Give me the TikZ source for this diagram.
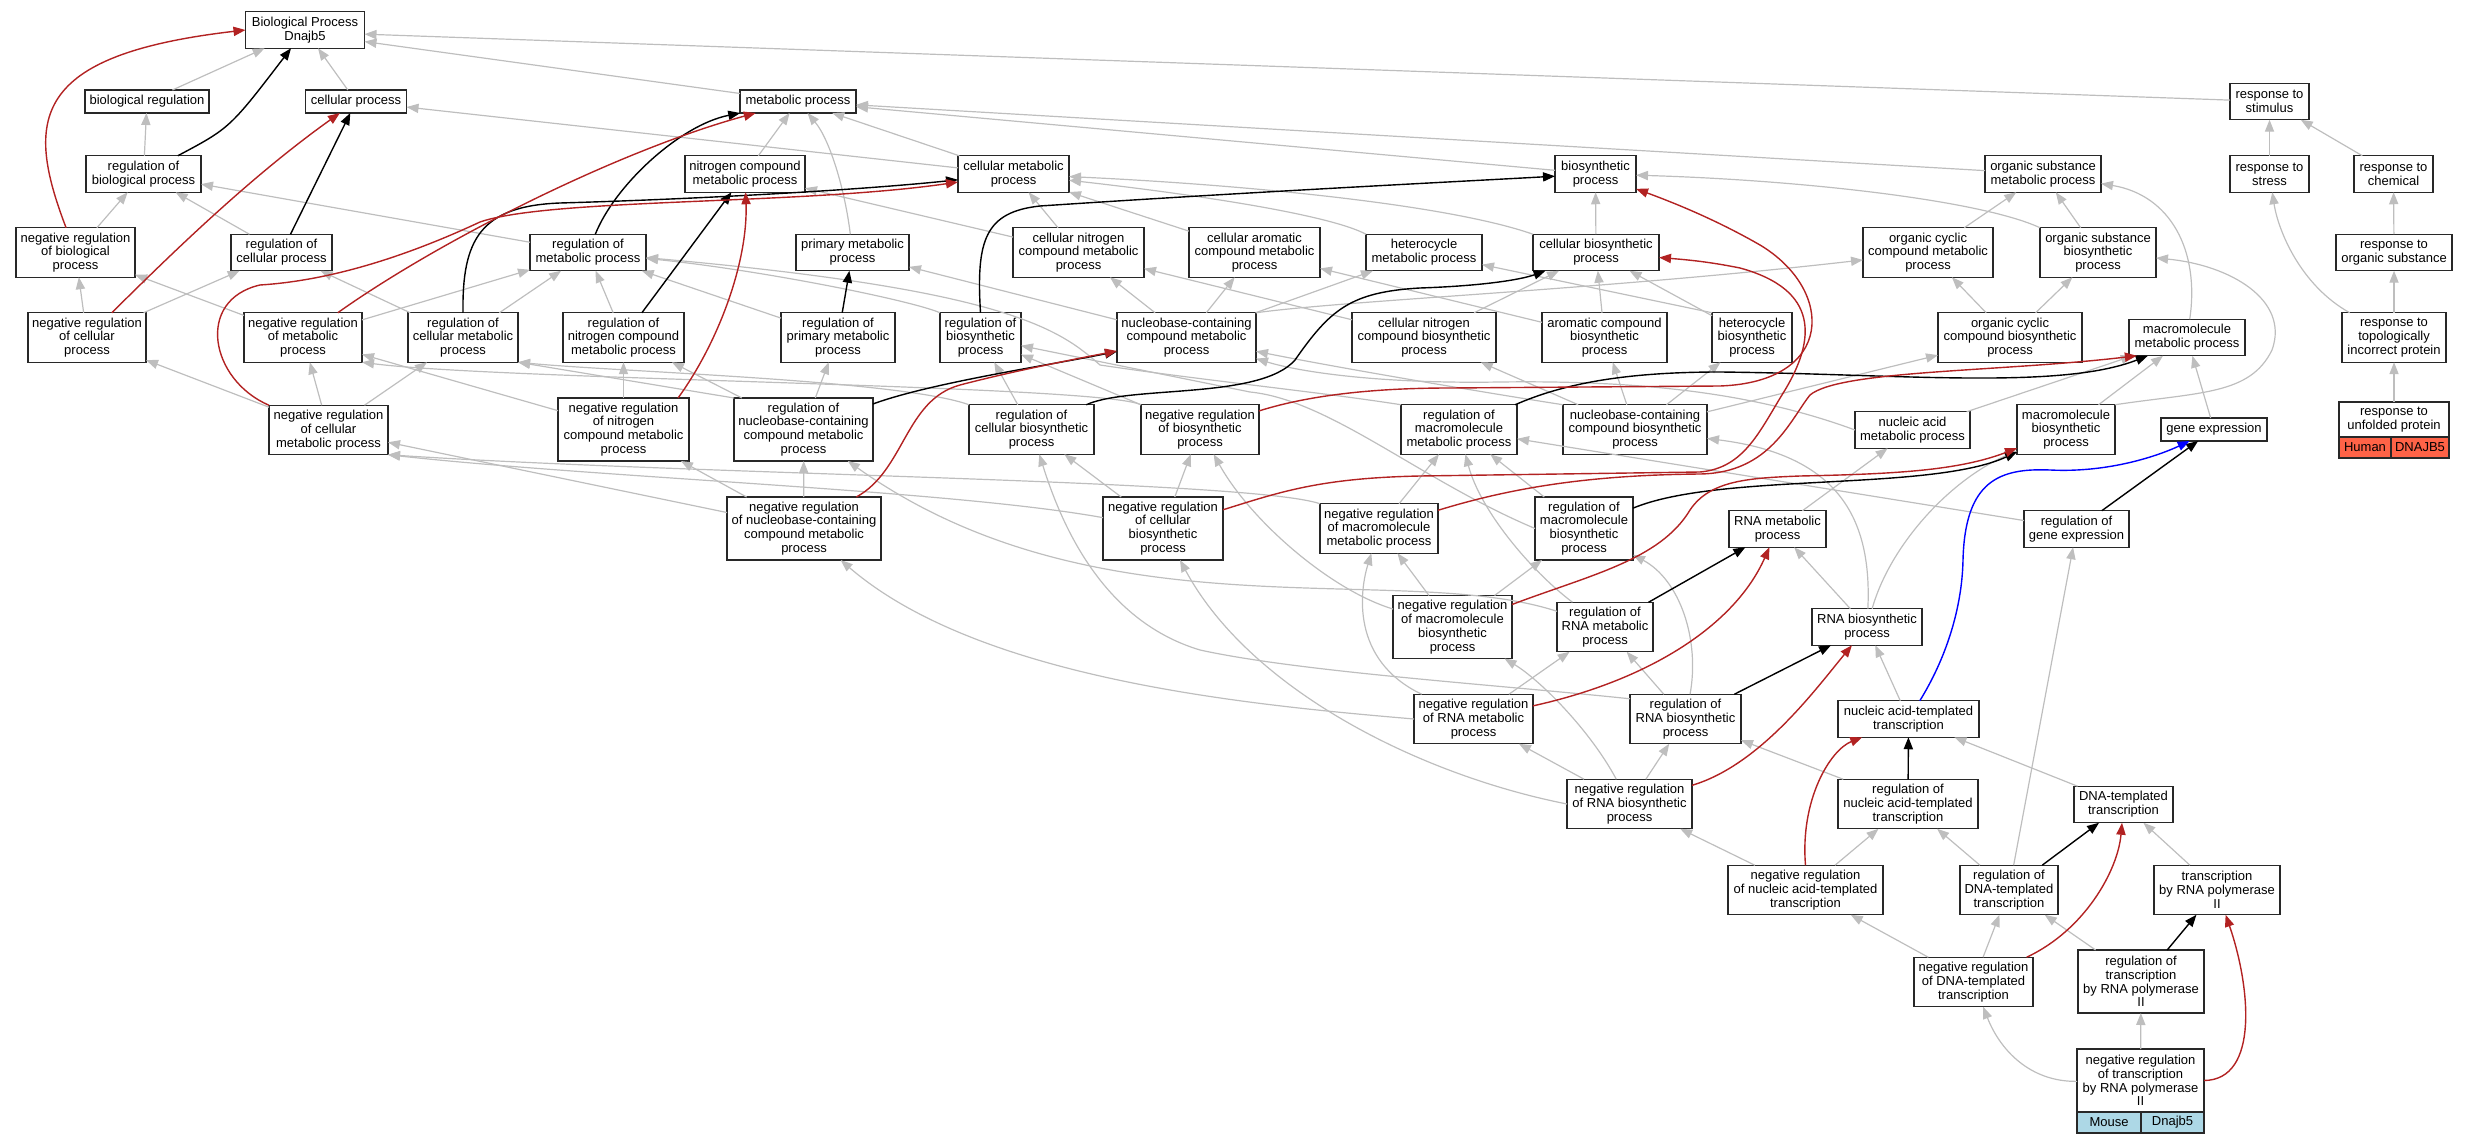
\documentclass[tikz,border=0pt]{standalone}
\usepackage{fontspec}
\setmainfont{Liberation Sans}
\usetikzlibrary{arrows.meta}
\definecolor{isagray}{RGB}{190,190,190}
\definecolor{negred}{RGB}{178,34,34}
\definecolor{humanfill}{RGB}{255,99,71}
\definecolor{mousefill}{RGB}{173,216,230}
\definecolor{boxline}{RGB}{40,40,40}
\begin{document}
\begin{tikzpicture}[y=0.50pt, x=0.50pt, yscale=-1.000000, xscale=1.000000, inner sep=0pt, outer sep=0pt,
  gobox/.style={draw=boxline, line width=0.6pt, fill=white, align=center, inner xsep=1.5pt, font=\fontsize{6.5pt}{6.9pt}\selectfont},
  h1/.style={gobox, minimum height=11.5pt},
  h2/.style={gobox, minimum height=18.25pt},
  h3/.style={gobox, minimum height=24.75pt},
  h4/.style={gobox, minimum height=31.5pt},
  spcell/.style={gobox, minimum height=10.5pt},
  isa/.style={draw=isagray, line width=0.6pt, -{Triangle[length=6pt,width=4.6pt]}},
  regl/.style={draw=black, line width=0.7pt, -{Triangle[length=6pt,width=4.6pt]}},
  negl/.style={draw=negred, line width=0.7pt, -{Triangle[length=6pt,width=4.6pt]}},
  partof/.style={draw=blue, line width=0.7pt, -{Triangle[length=6pt,width=4.6pt]}}]
  \useasboundingbox (0,0) rectangle (2468,1144);
  \node[h2, minimum width=59.5pt] (bp) at (305,30) {Biological Process\\Dnajb5};
  \node[h1, minimum width=62pt] (bioreg) at (147,101.5) {biological regulation};
  \node[h1, minimum width=50.5pt] (cellproc) at (356,101.5) {cellular process};
  \node[h1, minimum width=58pt] (metproc) at (798,101.5) {metabolic process};
  \node[h2, minimum width=39.5pt] (respstim) at (2269.5,101.5) {response to\\stimulus};
  \node[h2, minimum width=57.5pt] (regbio) at (143.5,174) {regulation of\\biological process};
  \node[h2, minimum width=60pt] (nitmet) at (745,174) {nitrogen compound\\metabolic process};
  \node[h2, minimum width=55.5pt] (cellmet) at (1013.5,174) {cellular metabolic\\process};
  \node[h2, minimum width=40.5pt] (biosyn) at (1595.5,174) {biosynthetic\\process};
  \node[h2, minimum width=58pt] (orgsubmet) at (2043,174) {organic substance\\metabolic process};
  \node[h2, minimum width=39.5pt] (respstress) at (2269.5,174) {response to\\stress};
  \node[h2, minimum width=39.5pt] (respchem) at (2393.5,174) {response to\\chemical};
  \node[h3, minimum width=59.5pt] (negregbio) at (75.5,252.5) {negative regulation\\of biological\\process};
  \node[h2, minimum width=50.5pt] (regcell) at (281.5,252.5) {regulation of\\cellular process};
  \node[h2, minimum width=58pt] (regmet) at (588,252.5) {regulation of\\metabolic process};
  \node[h2, minimum width=56.5pt] (primet) at (852.5,252.5) {primary metabolic\\process};
  \node[h3, minimum width=65.5pt] (cellnitmet) at (1078.5,252.5) {cellular nitrogen\\compound metabolic\\process};
  \node[h3, minimum width=65.5pt] (cellaromet) at (1254.5,252.5) {cellular aromatic\\compound metabolic\\process};
  \node[h2, minimum width=58pt] (hetmet) at (1424,252.5) {heterocycle\\metabolic process};
  \node[h2, minimum width=63pt] (cellbiosyn) at (1596,252.5) {cellular biosynthetic\\process};
  \node[h3, minimum width=65pt] (orgcycmet) at (1928,252.5) {organic cyclic\\compound metabolic\\process};
  \node[h3, minimum width=58pt] (orgsubbio) at (2098,252.5) {organic substance\\biosynthetic\\process};
  \node[h2, minimum width=58pt] (resporg) at (2394,252.5) {response to\\organic substance};
  \node[h3, minimum width=59pt] (negregcell) at (87,337.5) {negative regulation\\of cellular\\process};
  \node[h3, minimum width=59pt] (negregmet) at (303,337.5) {negative regulation\\of metabolic\\process};
  \node[h3, minimum width=55pt] (regcellmet) at (463,337.5) {regulation of\\cellular metabolic\\process};
  \node[h3, minimum width=60.5pt] (regnitmet) at (623.5,337.5) {regulation of\\nitrogen compound\\metabolic process};
  \node[h3, minimum width=57pt] (regprimet) at (838,337.5) {regulation of\\primary metabolic\\process};
  \node[h3, minimum width=40.5pt] (regbiosyn) at (980.5,337.5) {regulation of\\biosynthetic\\process};
  \node[h3, minimum width=69.5pt] (nucmet) at (1186.5,337.5) {nucleobase-containing\\compound metabolic\\process};
  \node[h3, minimum width=72pt] (cellnitbio) at (1424,337.5) {cellular nitrogen\\compound biosynthetic\\process};
  \node[h3, minimum width=62.5pt] (arobio) at (1604.5,337.5) {aromatic compound\\biosynthetic\\process};
  \node[h3, minimum width=40pt] (hetbio) at (1752,337.5) {heterocycle\\biosynthetic\\process};
  \node[h3, minimum width=72pt] (orgcycbio) at (2010,337.5) {organic cyclic\\compound biosynthetic\\process};
  \node[h2, minimum width=58pt] (macromet) at (2187,337.5) {macromolecule\\metabolic process};
  \node[h3, minimum width=52pt] (resptopo) at (2394,337.5) {response to\\topologically\\incorrect protein};
  \node[h3, minimum width=59.5pt] (negregcellmet) at (328.5,430) {negative regulation\\of cellular\\metabolic process};
  \node[h4, minimum width=65.5pt] (negregnitmet) at (623.5,429.5) {negative regulation\\of nitrogen\\compound metabolic\\process};
  \node[h4, minimum width=69.5pt] (regnucmet) at (803.5,429.5) {regulation of\\nucleobase-containing\\compound metabolic\\process};
  \node[h3, minimum width=62.5pt] (regcellbio) at (1031.5,429.5) {regulation of\\cellular biosynthetic\\process};
  \node[h3, minimum width=59pt] (negregbiosyn) at (1200,429.5) {negative regulation\\of biosynthetic\\process};
  \node[h3, minimum width=58pt] (regmacromet) at (1459,429.5) {regulation of\\macromolecule\\metabolic process};
  \node[h3, minimum width=72pt] (nucbio) at (1635,429.5) {nucleobase-containing\\compound biosynthetic\\process};
  \node[h2, minimum width=57.5pt] (nucacmet) at (1912.5,430) {nucleic acid\\metabolic process};
  \node[h3, minimum width=49pt] (macrobio) at (2066,429.5) {macromolecule\\biosynthetic\\process};
  \node[h1, minimum width=53pt] (geneexp) at (2214,429.5) {gene expression};
  \node[gobox, minimum height=17.5pt, minimum width=55pt] (respunf) at (2394,419.5) {response to\\unfolded protein};
  \node[spcell, fill=humanfill, minimum width=26pt] (human) at (2365,447.5) {Human};
  \node[spcell, fill=humanfill, minimum width=29pt] (dnajbh) at (2420,447.5) {DNAJB5};
  \node[h4, minimum width=77pt] (negregnucmet) at (804,528.5) {negative regulation\\of nucleobase-containing\\compound metabolic\\process};
  \node[h4, minimum width=60pt] (negregcellbio) at (1163,528.5) {negative regulation\\of cellular\\biosynthetic\\process};
  \node[h3, minimum width=59pt] (negregmacromet) at (1379,528.5) {negative regulation\\of macromolecule\\metabolic process};
  \node[h4, minimum width=49pt] (regmacrobio) at (1584,528.5) {regulation of\\macromolecule\\biosynthetic\\process};
  \node[h2, minimum width=48.5pt] (rnamet) at (1777.5,529) {RNA metabolic\\process};
  \node[h2, minimum width=52.5pt] (reggeneexp) at (2076.5,529) {regulation of\\gene expression};
  \node[h4, minimum width=59.5pt] (negregmacrobio) at (1452.5,627) {negative regulation\\of macromolecule\\biosynthetic\\process};
  \node[h3, minimum width=48pt] (regrnamet) at (1605,627) {regulation of\\RNA metabolic\\process};
  \node[h2, minimum width=55pt] (rnabio) at (1867,627) {RNA biosynthetic\\process};
  \node[h3, minimum width=59.5pt] (negregrnamet) at (1473.5,719) {negative regulation\\of RNA metabolic\\process};
  \node[h3, minimum width=55.5pt] (regrnabio) at (1685.5,719) {regulation of\\RNA biosynthetic\\process};
  \node[h2, minimum width=70.5pt] (natrans) at (1908.5,719) {nucleic acid-templated\\transcription};
  \node[h3, minimum width=62.5pt] (negregrnabio) at (1629.5,804) {negative regulation\\of RNA biosynthetic\\process};
  \node[h3, minimum width=70pt] (regnatrans) at (1908,804) {regulation of\\nucleic acid-templated\\transcription};
  \node[h2, minimum width=49.5pt] (dnatrans) at (2123.5,804.5) {DNA-templated\\transcription};
  \node[h3, minimum width=77.5pt] (negregnatrans) at (1805.5,890) {negative regulation\\of nucleic acid-templated\\transcription};
  \node[h3, minimum width=49pt] (regdnatrans) at (2009,890) {regulation of\\DNA-templated\\transcription};
  \node[h3, minimum width=63pt] (rnapol) at (2217,890) {transcription\\by RNA polymerase\\II};
  \node[h3, minimum width=59.5pt] (negregdnatrans) at (1973.5,982) {negative regulation\\of DNA-templated\\transcription};
  \node[h4, minimum width=63pt] (regrnapol) at (2141,981.5) {regulation of\\transcription\\by RNA polymerase\\II};
  \node[h4, minimum width=63.5pt] (negregrnapol) at (2140.5,1080.5) {negative regulation\\of transcription\\by RNA polymerase\\II};
  \node[spcell, fill=mousefill, minimum width=32pt] (mouse) at (2109,1122.5) {Mouse};
  \node[spcell, fill=mousefill, minimum width=31.5pt] (dnajbm) at (2172.5,1122.5) {Dnajb5};
  \draw[isa] (bioreg) -- (bp);
  \draw[isa] (cellproc) -- (bp);
  \draw[isa] (metproc) -- (bp.349);
  \draw[isa] (respstim) -- (bp.356);
  \draw[isa] (regbio) -- (bioreg);
  \draw[isa] (nitmet) -- (metproc);
  \draw[isa] (primet) .. controls (845,190) and (830,140) .. (metproc);
  \draw[isa] (cellmet) -- (metproc);
  \draw[isa] (biosyn) -- (metproc);
  \draw[isa] (orgsubmet) -- (metproc);
  \draw[isa] (cellmet) -- (cellproc);
  \draw[isa] (respstress) -- (respstim);
  \draw[isa] (respchem) -- (respstim);
  \draw[isa] (negregbio) -- (regbio);
  \draw[isa] (regcell) -- (regbio);
  \draw[isa] (regmet) -- (regbio);
  \draw[isa] (cellnitmet) -- (nitmet);
  \draw[isa] (cellnitmet) -- (cellmet);
  \draw[isa] (cellaromet) -- (cellmet);
  \draw[isa] (hetmet.north west) .. controls (1330,215) and (1200,195) .. (cellmet);
  \draw[isa] (cellbiosyn.north west) .. controls (1450,205) and (1250,185) .. (cellmet);
  \draw[isa] (cellbiosyn) -- (biosyn);
  \draw[isa] (orgsubbio.north west) .. controls (1980,200) and (1800,180) .. (biosyn);
  \draw[isa] (orgcycmet) -- (orgsubmet);
  \draw[isa] (orgsubbio) -- (orgsubmet);
  \draw[isa] (macromet) .. controls (2200,250) and (2170,195) .. (orgsubmet);
  \draw[isa] (resporg) -- (respchem);
  \draw[isa] (resptopo) .. controls (2300,285) and (2278,230) .. (respstress);
  \draw[isa] (resptopo) -- (resporg);
  \draw[isa] (respunf) -- (resptopo);
  \draw[isa] (negregcell) -- (negregbio);
  \draw[isa] (negregmet) -- (negregbio);
  \draw[isa] (negregcell) -- (regcell);
  \draw[isa] (regcellmet) -- (regcell);
  \draw[isa] (negregmet) -- (regmet);
  \draw[isa] (regcellmet) -- (regmet);
  \draw[isa] (regnitmet) -- (regmet);
  \draw[isa] (regprimet) -- (regmet);
  \draw[isa] (regbiosyn.north west) .. controls (910,300) and (760,270) .. (regmet);
  \draw[isa] (regmacromet.north west) .. controls (1320,392) and (1200,380) .. (1100,365) .. controls (1060,330) and (1010,290) .. (regmet);
  \draw[isa] (nucmet) -- (primet);
  \draw[isa] (nucmet) -- (cellnitmet);
  \draw[isa] (cellnitbio) -- (cellnitmet);
  \draw[isa] (nucmet) -- (cellaromet);
  \draw[isa] (arobio) -- (cellaromet);
  \draw[isa] (nucmet) -- (hetmet);
  \draw[isa] (hetbio.north west) -- (hetmet);
  \draw[isa] (cellnitbio) -- (cellbiosyn);
  \draw[isa] (arobio) -- (cellbiosyn);
  \draw[isa] (hetbio) -- (cellbiosyn);
  \draw[isa] (nucmet.north east) .. controls (1350,300) and (1600,290) .. (orgcycmet);
  \draw[isa] (orgcycbio) -- (orgcycmet);
  \draw[isa] (orgcycbio) -- (orgsubbio);
  \draw[isa] (macrobio.north east) .. controls (2200,392) and (2250,395) .. (2272,350) .. controls (2290,300) and (2230,265) .. (orgsubbio);
  \draw[isa] (macrobio) -- (macromet);
  \draw[isa] (geneexp) -- (macromet);
  \draw[isa] (nucacmet) -- (macromet);
  \draw[isa] (negregcellmet) -- (negregcell);
  \draw[isa] (negregcellmet) -- (negregmet);
  \draw[isa] (negregnitmet) -- (negregmet);
  \draw[isa] (negregbiosyn.north west) .. controls (1100,385) and (500,380) .. (negregmet.south east);
  \draw[isa] (negregcellmet) -- (regcellmet);
  \draw[isa] (regnucmet.north west) -- (regcellmet.south east);
  \draw[isa] (regcellbio.north west) .. controls (900,380) and (620,372) .. (regcellmet.south east);
  \draw[isa] (negregnitmet) -- (regnitmet);
  \draw[isa] (regnucmet) -- (regnitmet);
  \draw[isa] (regnucmet) -- (regprimet);
  \draw[isa] (regcellbio) -- (regbiosyn);
  \draw[isa] (negregbiosyn) -- (regbiosyn);
  \draw[isa] (regmacrobio.west) .. controls (1420,480) and (1330,400) .. (1250,392) -- (regbiosyn);
  \draw[isa] (nucbio.north west) .. controls (1500,395) and (1350,370) .. (nucmet);
  \draw[isa] (nucacmet.west) .. controls (1760,395) and (1650,380) .. (1500,382) .. controls (1380,384) and (1300,372) .. (nucmet);
  \draw[isa] (nucbio) -- (cellnitbio);
  \draw[isa] (nucbio) -- (arobio);
  \draw[isa] (nucbio) -- (hetbio);
  \draw[isa] (nucbio) -- (orgcycbio);
  \draw[isa] (negregnucmet) -- (negregcellmet);
  \draw[isa] (negregcellbio) .. controls (950,490) and (600,478) .. (negregcellmet.south east);
  \draw[isa] (negregmacromet.north west) .. controls (1250,480) and (700,475) .. (negregcellmet.south east);
  \draw[isa] (negregnucmet) -- (negregnitmet);
  \draw[isa] (negregnucmet) -- (regnucmet);
  \draw[isa] (regrnamet) .. controls (1400,560) and (1100,640) .. (regnucmet);
  \draw[isa] (negregcellbio) -- (regcellbio);
  \draw[isa] (regrnabio.160) .. controls (1500,685) and (1300,672) .. (1200,650) .. controls (1100,620) and (1060,520) .. (regcellbio);
  \draw[isa] (negregcellbio) -- (negregbiosyn);
  \draw[isa] (negregmacrobio) .. controls (1330,590) and (1250,520) .. (negregbiosyn);
  \draw[isa] (negregmacromet) -- (regmacromet);
  \draw[isa] (regrnamet) .. controls (1530,570) and (1480,510) .. (regmacromet);
  \draw[isa] (regmacrobio) -- (regmacromet);
  \draw[isa] (reggeneexp) -- (regmacromet);
  \draw[isa] (rnabio) .. controls (1872,520) and (1840,455) .. (nucbio);
  \draw[isa] (rnamet) -- (nucacmet);
  \draw[isa] (rnabio) .. controls (1890,545) and (1950,480) .. (macrobio);
  \draw[isa] (negregrnamet.west) .. controls (1250,705) and (980,680) .. (negregnucmet);
  \draw[isa] (negregrnabio.west) .. controls (1420,775) and (1250,690) .. (negregcellbio);
  \draw[isa] (negregrnamet) .. controls (1350,660) and (1360,590) .. (negregmacromet);
  \draw[isa] (negregmacrobio) -- (negregmacromet);
  \draw[isa] (negregmacrobio) -- (regmacrobio);
  \draw[isa] (regrnabio) .. controls (1700,640) and (1680,580) .. (regmacrobio);
  \draw[isa] (rnabio) -- (rnamet);
  \draw[isa] (negregrnamet) -- (regrnamet);
  \draw[isa] (regrnabio) -- (regrnamet);
  \draw[isa] (negregrnabio) .. controls (1590,730) and (1540,680) .. (negregmacrobio);
  \draw[isa] (negregrnabio) -- (negregrnamet);
  \draw[isa] (natrans) -- (rnabio);
  \draw[isa] (negregrnabio) -- (regrnabio);
  \draw[isa] (regnatrans) -- (regrnabio);
  \draw[isa] (dnatrans) -- (natrans);
  \draw[isa] (negregnatrans) -- (negregrnabio);
  \draw[isa] (negregnatrans) -- (regnatrans);
  \draw[isa] (regdnatrans) -- (regnatrans);
  \draw[isa] (regdnatrans) -- (reggeneexp);
  \draw[isa] (rnapol) -- (dnatrans);
  \draw[isa] (negregdnatrans) -- (negregnatrans);
  \draw[isa] (negregdnatrans) -- (regdnatrans);
  \draw[isa] (regrnapol) -- (regdnatrans);
  \draw[isa] (negregrnapol) .. controls (2030,1082) and (2000,1050) .. (negregdnatrans);
  \draw[isa] (negregrnapol) -- (regrnapol);
  \draw[regl] (regbio) .. controls (230,128) .. (bp);
  \draw[regl] (regcell) -- (cellproc);
  \draw[regl] (regmet) .. controls (615,185) and (680,125) .. (metproc);
  \draw[regl] (regnitmet) -- (nitmet);
  \draw[regl] (regcellmet.north) .. controls (462,240) and (480,206) .. (560,203) .. controls (700,199) and (860,190) .. (cellmet);
  \draw[regl] (regprimet) -- (primet);
  \draw[regl] (regbiosyn.north) .. controls (976,240) and (985,212) .. (1040,206) .. controls (1250,192) and (1450,182) .. (biosyn);
  \draw[regl] (regnucmet) .. controls (930,383) and (1050,365) .. (nucmet);
  \draw[regl] (regcellbio) .. controls (1130,385) and (1260,400) .. (1295,360) .. controls (1330,310) and (1350,292) .. (1420,288) .. controls (1480,286) and (1520,280) .. (cellbiosyn);
  \draw[regl] (regmacromet) .. controls (1560,385) and (1620,372) .. (1720,372) .. controls (1900,374) and (2060,390) .. (macromet.205);
  \draw[regl] (regmacrobio) .. controls (1720,472) and (1930,492) .. (macrobio);
  \draw[regl] (regrnamet) -- (rnamet);
  \draw[regl] (regrnabio) -- (rnabio);
  \draw[regl] (regnatrans) -- (natrans);
  \draw[regl] (regdnatrans) -- (dnatrans);
  \draw[regl] (regrnapol) -- (rnapol);
  \draw[regl] (reggeneexp) -- (geneexp);
  \draw[negl] (negregbio) .. controls (25,120) and (30,55) .. (bp.west);
  \draw[negl] (negregcell) .. controls (190,235) and (260,170) .. (cellproc);
  \draw[negl] (negregmet) .. controls (440,240) and (620,150) .. (metproc);
  \draw[negl] (negregnitmet.30) .. controls (720,340) and (748,260) .. (nitmet);
  \draw[negl] (negregcellmet.north west) .. controls (210,380) and (195,300) .. (260,285) .. controls (340,280) and (420,250) .. (480,222) .. controls (550,198) and (800,205) .. (cellmet);
  \draw[negl] (negregbiosyn) .. controls (1300,398) and (1360,388) .. (1450,388) -- (1720,386) .. controls (1835,382) and (1835,290) .. (1760,245) .. controls (1720,222) and (1680,205) .. (biosyn);
  \draw[negl] (negregnucmet.31) .. controls (905,470) and (905,400) .. (960,385) .. controls (1010,372) and (1060,362) .. (nucmet);
  \draw[negl] (negregcellbio) .. controls (1280,492) and (1320,478) .. (1420,476) -- (1700,472) .. controls (1745,468) and (1760,430) .. (1785,390) .. controls (1815,340) and (1820,290) .. (1740,268) .. controls (1710,262) and (1690,260) .. (cellbiosyn);
  \draw[negl] (negregmacromet) .. controls (1520,485) and (1600,475) .. (1700,474) .. controls (1770,473) and (1790,420) .. (1810,395) .. controls (1840,370) and (2000,372) .. (macromet.200);
  \draw[negl] (negregmacrobio) .. controls (1590,575) and (1660,560) .. (1690,510) .. controls (1710,480) and (1750,478) .. (1800,476) .. controls (1900,474) and (1960,470) .. (macrobio);
  \draw[negl] (negregrnamet) .. controls (1650,680) and (1735,625) .. (rnamet);
  \draw[negl] (negregrnabio) .. controls (1760,765) and (1815,690) .. (rnabio);
  \draw[negl] (negregnatrans.north) .. controls (1800,800) and (1830,750) .. (natrans);
  \draw[negl] (negregdnatrans) .. controls (2085,930) and (2118,870) .. (dnatrans);
  \draw[negl] (negregrnapol.east) .. controls (2260,1080) and (2250,985) .. (rnapol);
  \draw[partof] (natrans) .. controls (1945,660) and (1962,610) .. (1963,560) .. controls (1965,480) and (2000,468) .. (2050,470) .. controls (2110,473) and (2160,455) .. (geneexp);
\end{tikzpicture}
\end{document}
